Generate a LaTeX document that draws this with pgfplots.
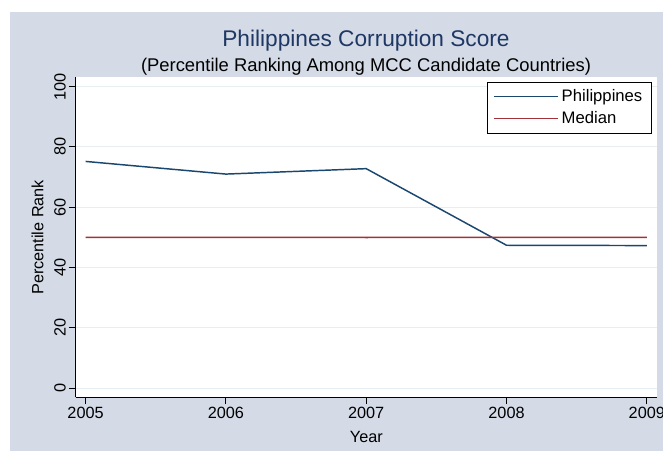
\documentclass[border=0pt]{standalone}
\usepackage{pgfplots}
\pgfplotsset{compat=1.18}
\usepackage{fontspec}
\setmainfont{Liberation Sans}
\definecolor{bgcol}{RGB}{212,219,230}
\definecolor{gridcol}{RGB}{232,239,242}
\definecolor{phcol}{RGB}{26,71,111}
\definecolor{medcol}{RGB}{160,50,56}
\definecolor{titlecol}{RGB}{30,55,100}
\begin{document}
\begin{tikzpicture}
\path[use as bounding box] (0,0) rectangle (497.25pt,338.25pt);
\fill[white] (0,0) rectangle (497.25pt,338.25pt);
\fill[bgcol] (7.5pt,0) rectangle (497.25pt,329.5pt);
\node[anchor=base, font=\fontsize{17}{20}\selectfont, text=titlecol, inner sep=0pt] at (274.5pt,303.5pt) {Philippines Corruption Score};
\node[anchor=base, font=\fontsize{13.8}{16}\selectfont, inner sep=0pt] at (274.5pt,284.5pt) {(Percentile Ranking Among MCC Candidate Countries)};
\begin{axis}[
  at={(56.8pt,40.3pt)}, anchor=south west,
  scale only axis, width=436pt, height=240pt,
  xmin=2004.93, xmax=2009.073, ymin=-3, ymax=103.1,
  axis lines*=left,
  axis line style={black, line width=0.7pt},
  axis background/.style={fill=white},
  tick align=outside,
  major tick length=5.2pt,
  tick style={black, line width=0.7pt},
  xtick={2005,2006,2007,2008,2009},
  ytick={0,20,40,60,80,100},
  /pgf/number format/assume math mode=true,
  /pgf/number format/1000 sep={},
  ticklabel style={font=\fontsize{12.2}{14}\selectfont},
  yticklabel style={rotate=90, anchor=south, inner sep=2pt},
  xticklabel style={anchor=north, inner sep=2pt},
  ymajorgrids,
  grid style={gridcol, line width=0.8pt},
  xlabel={Year},
  ylabel={Percentile Rank},
  label style={font=\fontsize{12.2}{14}\selectfont},
  xlabel style={at={(rel axis cs:0.5,-0.1406)}, anchor=base},
  ylabel style={at={(rel axis cs:-0.0557,0.5)}, anchor=base, rotate=0},
  legend style={at={(rel axis cs:0.9914,0.9853)}, anchor=north east,
    draw=black, line width=0.6pt, fill=white,
    font=\fontsize{12.5}{15}\selectfont,
    inner xsep=5pt, inner ysep=3.5pt, row sep=2pt,
    cells={anchor=west}},
  legend image code/.code={\draw[#1, line width=0.9pt] (0pt,0pt) -- (48pt,0pt);},
  clip=false,
]
\addplot[draw=phcol, line width=1.1pt] coordinates {
  (2005,75.2) (2006,71.0) (2007,72.8) (2008,47.4) (2009,47.3)
};
\addlegendentry{Philippines}
\addplot[draw=medcol, line width=1.2pt] coordinates {
  (2005,50.0) (2006,50.01) (2007,49.99) (2008,50.0) (2009,50.01)
};
\addlegendentry{Median}
\end{axis}
\end{tikzpicture}
\end{document}
